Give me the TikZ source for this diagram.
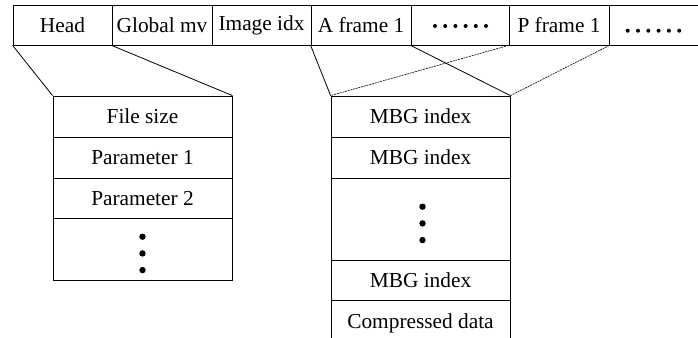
\documentclass[tikz,border=0pt]{standalone}
\usepackage{fontspec}
\setmainfont{Liberation Serif}
\newcommand{\pu}{0.75pt}
\tikzset{
  cell/.style={draw,line width=0.6pt,inner sep=0pt,minimum height=#1*\pu},
  cell/.default=40,
  link/.style={line width=0.6pt},
  faint/.style={line width=0.45pt,densely dashed,dash pattern=on 1.5pt off 0.6pt}
}
\begin{document}
\begin{tikzpicture}[x=0.75pt,y=-0.75pt,font=\fontsize{16pt}{19pt}\selectfont]
  \useasboundingbox (0,0) rectangle (698,337);
  % stream header row
  \node[cell,minimum width=99*\pu]  (head)   at (62.5,25)  {Head};
  \node[cell,minimum width=100*\pu] (gmv)    at (162,25)   {Global mv};
  \node[cell,minimum width=99*\pu]  (imgidx) at (261.5,25) {Image idx};
  \node[cell,minimum width=100*\pu] (aframe) at (361,25)   {A frame 1};
  \node[cell,minimum width=98*\pu]  (dotsA)  at (460,25)   {};
  \node[cell,minimum width=100*\pu] (pframe) at (559,25)   {P frame 1};
  \node[cell,minimum width=140*\pu] (dotsB)  at (679,25)   {};
  \foreach \i in {0,...,5} {
    \fill (435+10.2*\i,26) circle (2pt*0.75);
    \fill (627.7+10.3*\i,30.7) circle (2pt*0.75);
  }
  % head fields
  \node[cell=41,minimum width=179*\pu]   (fsize) at (142.5,116.5)  {File size};
  \node[cell=41,minimum width=179*\pu]   (par1)  at (142.5,157.5)  {Parameter 1};
  \node[cell=40.5,minimum width=179*\pu] (par2)  at (142.5,198.25) {Parameter 2};
  \node[cell=61.5,minimum width=179*\pu] (ldots) at (142.5,249.25) {};
  \foreach \k in {0,1,2}
    \fill (142.5,236.7+16.7*\k) circle (3.2pt*0.75);
  % frame fields
  \node[cell=41,minimum width=179*\pu]   (mbg1)  at (420.5,116.5) {MBG index};
  \node[cell=41,minimum width=179*\pu]   (mbg2)  at (420.5,157.5) {MBG index};
  \node[cell=82,minimum width=179*\pu]   (rdots) at (420.5,219)   {};
  \node[cell=40.7,minimum width=179*\pu] (mbg3)  at (420.5,280.35) {MBG index};
  \node[cell=46,minimum width=179*\pu]   (cdata) at (420.5,323.7) {Compressed data};
  \foreach \k in {0,1,2}
    \fill (422.5,206.7+16.7*\k) circle (3.2pt*0.75);
  % expansion lines
  \draw[link] (head.south west) -- (fsize.north west);
  \draw[link] (gmv.south west) -- (fsize.north east);
  \draw[link] (aframe.south west) -- (mbg1.north west);
  \draw[link] (dotsA.south west) -- (mbg1.north east);
  \draw[faint] (pframe.south west) -- (mbg1.north west);
  \draw[faint] (pframe.south east) -- (mbg1.north east);
\end{tikzpicture}
\end{document}
